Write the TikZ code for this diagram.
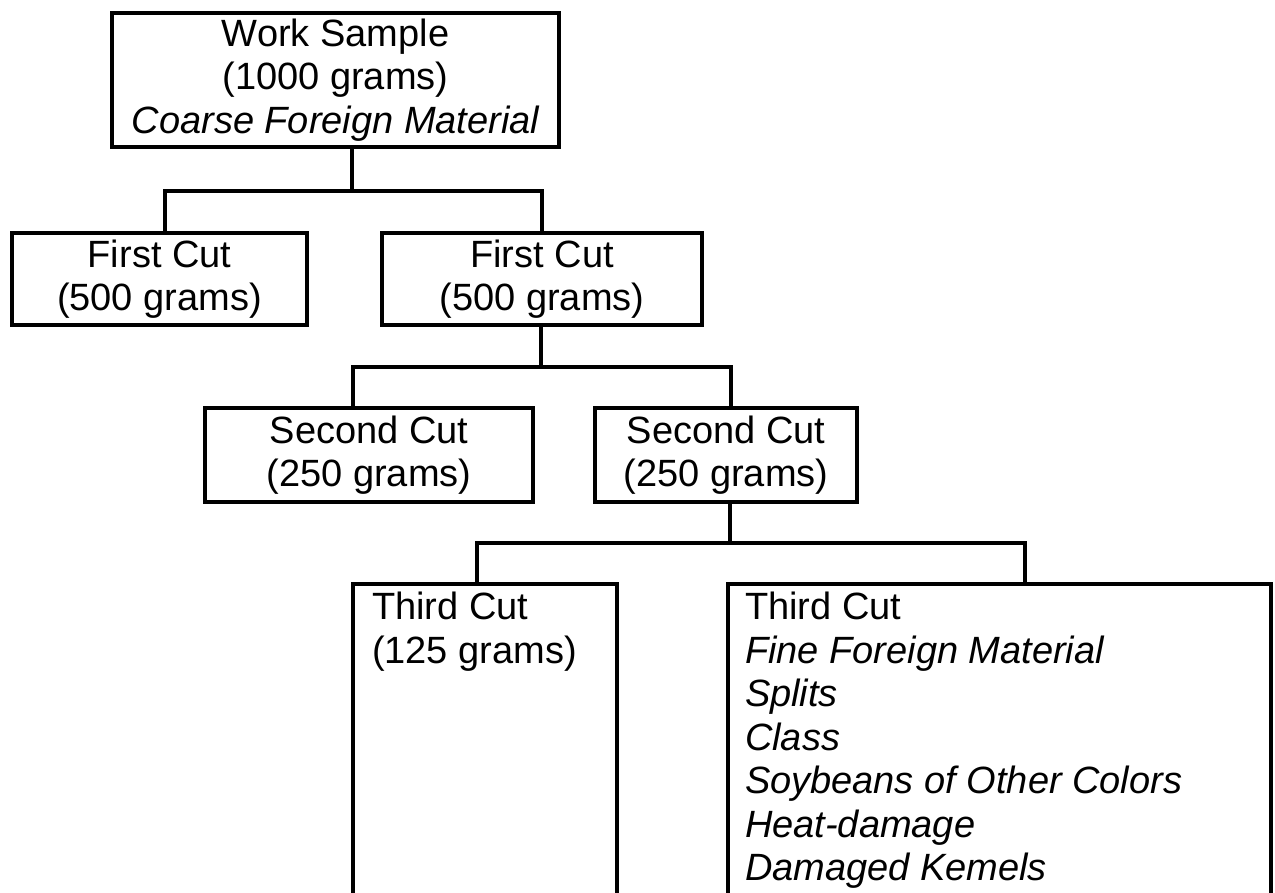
\documentclass[tikz,border=0pt]{standalone}
\usepackage{fontspec}
\setmainfont{Liberation Sans}
\begin{document}
\begin{tikzpicture}[x=0.5pt,y=-0.5pt,
  every node/.style={font=\fontsize{19}{21.75}\selectfont},
  sz/.style 2 args={minimum width={(#1)*0.5pt},minimum height={(#2)*0.5pt}},
  box/.style={draw,line width=1.6pt,inner sep=0pt,outer sep=0pt,align=center,anchor=north west},
  lbl/.style={inner sep=0pt,outer sep=0pt,align=left,anchor=north west},
  conn/.style={line width=1.6pt}]
\useasboundingbox (0,0) rectangle (1275,893);
\clip (0,0) rectangle (1275,893);
\fill[white] (0,0) rectangle (1275,893);
% boxes
\node[box,sz={447}{134}] (ws) at (112,13) {Work Sample\\(1000 grams)\\\itshape Coarse Foreign Material};
\node[box,sz={295}{92}] (fc1) at (12,233) {First Cut\\(500 grams)};
\node[box,sz={320}{92}] (fc2) at (382,233) {First Cut\\(500 grams)};
\node[box,sz={328}{94}] (sc1) at (205,408) {Second Cut\\(250 grams)};
\node[box,sz={262}{94}] (sc2) at (595,408) {Second Cut\\(250 grams)};
\node[box,sz={264}{340}] (tc1) at (353,584) {};
\node[box,sz={543}{340}] (tc2) at (728,584) {};
\node[lbl] (tc1t) at ([xshift=9.5pt,yshift=-4pt]tc1.north west) {Third Cut\\(125 grams)};
\node[lbl] (tc2t) at ([xshift=8.5pt,yshift=-4pt]tc2.north west) {Third Cut\\\itshape Fine Foreign Material\\\itshape Splits\\\itshape Class\\\itshape Soybeans of Other Colors\\\itshape Heat-damage\\\itshape Damaged Kemels};
% connector joints
\coordinate (h1m) at (352,191);
\coordinate (h1l) at (165,191);
\coordinate (h1r) at (542,191);
\coordinate (h2m) at (541,367);
\coordinate (h2l) at (353,367);
\coordinate (h2r) at (731,367);
\coordinate (h3m) at (730,543);
\coordinate (h3l) at (477,543);
\coordinate (h3r) at (1025,543);
% connectors
\draw[conn] (ws.south -| h1m) -- (h1m);
\draw[conn] (h1l |- fc1.north) -- (h1l) -- (h1r) -- (h1r |- fc2.north);
\draw[conn] (fc2.south -| h2m) -- (h2m);
\draw[conn] (h2l |- sc1.north) -- (h2l) -- (h2r) -- (h2r |- sc2.north);
\draw[conn] (sc2.south -| h3m) -- (h3m);
\draw[conn] (h3l |- tc1.north) -- (h3l) -- (h3r) -- (h3r |- tc2.north);
\end{tikzpicture}
\end{document}
